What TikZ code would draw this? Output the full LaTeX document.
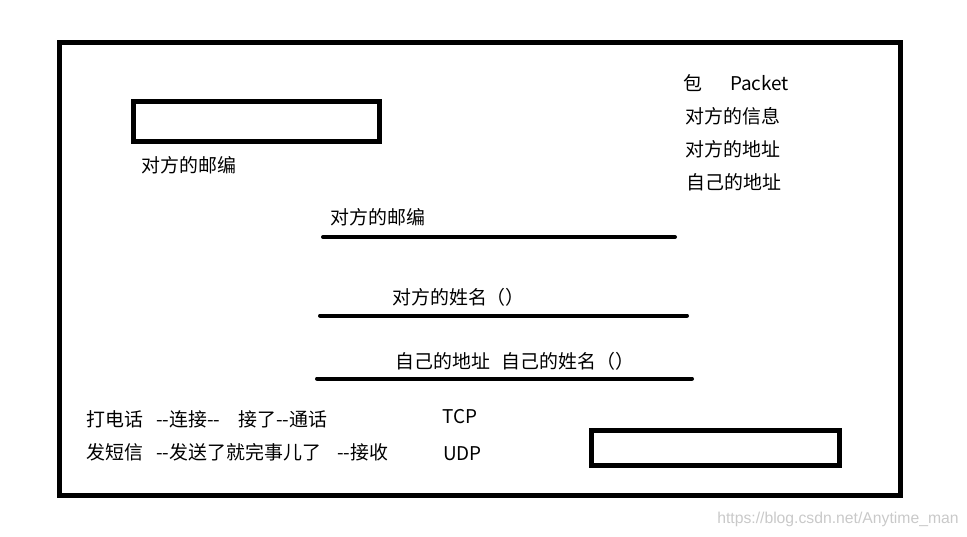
\documentclass[tikz,border=0pt]{standalone}
\usepackage{fontspec}
\newfontfamily\envfont{Noto Sans CJK SC}
\newfontfamily\markfont{Liberation Sans}
\usepackage{xcolor}
\definecolor{envink}{HTML}{000000}
\definecolor{envgray}{HTML}{C9C9C9}
\usetikzlibrary{positioning}
\tikzset{
  every picture/.style={line cap=round, line join=round},
  frame/.style={envink, line width=3.75pt, line join=miter, line cap=rect},
  field/.style={envink, line width=3pt, line cap=round},
  lbl/.style={font=\envfont\fontsize{14.2}{17}\selectfont, text=envink, anchor=west, inner sep=0pt},
  wmark/.style={font=\markfont\fontsize{11.8}{13}\selectfont, text=envgray, anchor=west, inner sep=0pt},
}

\begin{document}
\begin{tikzpicture}[x=0.75pt, y=-0.75pt]
\useasboundingbox (0,0) rectangle (967,536);
% the envelope
\draw[frame] (59.5,42.5) rectangle (900.5,495.5);
% stamp boxes
\draw[frame] (133.5,101.5) rectangle (379.5,141);
\draw[frame] (591.5,430.5) rectangle (839,465.5);
\node[lbl] (zipbox) at (141,165) {对方的邮编};
% the packet
\node[lbl] (pkt) at (683,83) {包\hspace{21pt}Packet};
\node[lbl] (pkta) at (685,116) {对方的信息};
\node[lbl] (pktb) at (685,149) {对方的地址};
\node[lbl] (pktc) at (686,182) {自己的地址};
% address lines
\node[lbl] (zipline) at (330,217) {对方的邮编};
\draw[field] (323,237) -- (675,237);
\node[lbl] (toname) at (392,297) {对方的姓名（）};
\draw[field] (320,315.5) -- (687,315.5);
\node[lbl] (fromname) at (395,361) {自己的地址\hspace{9pt}自己的姓名（）};
\draw[field] (317,378.5) -- (692,378.5);
% TCP and UDP
\node[lbl] (call) at (86,419) {打电话\hspace{10pt}--连接--\hspace{13.5pt}接了--通话};
\node[lbl] (tcp) at (442,417) {TCP};
\node[lbl] (sms) at (86,452) {发短信\hspace{10pt}--发送了就完事儿了\hspace{12pt}--接收};
\node[lbl] (udp) at (443,454) {UDP};
\node[wmark] (src) at (717,519) {https://blog.csdn.net/Anytime\_man};
\end{tikzpicture}
\end{document}
